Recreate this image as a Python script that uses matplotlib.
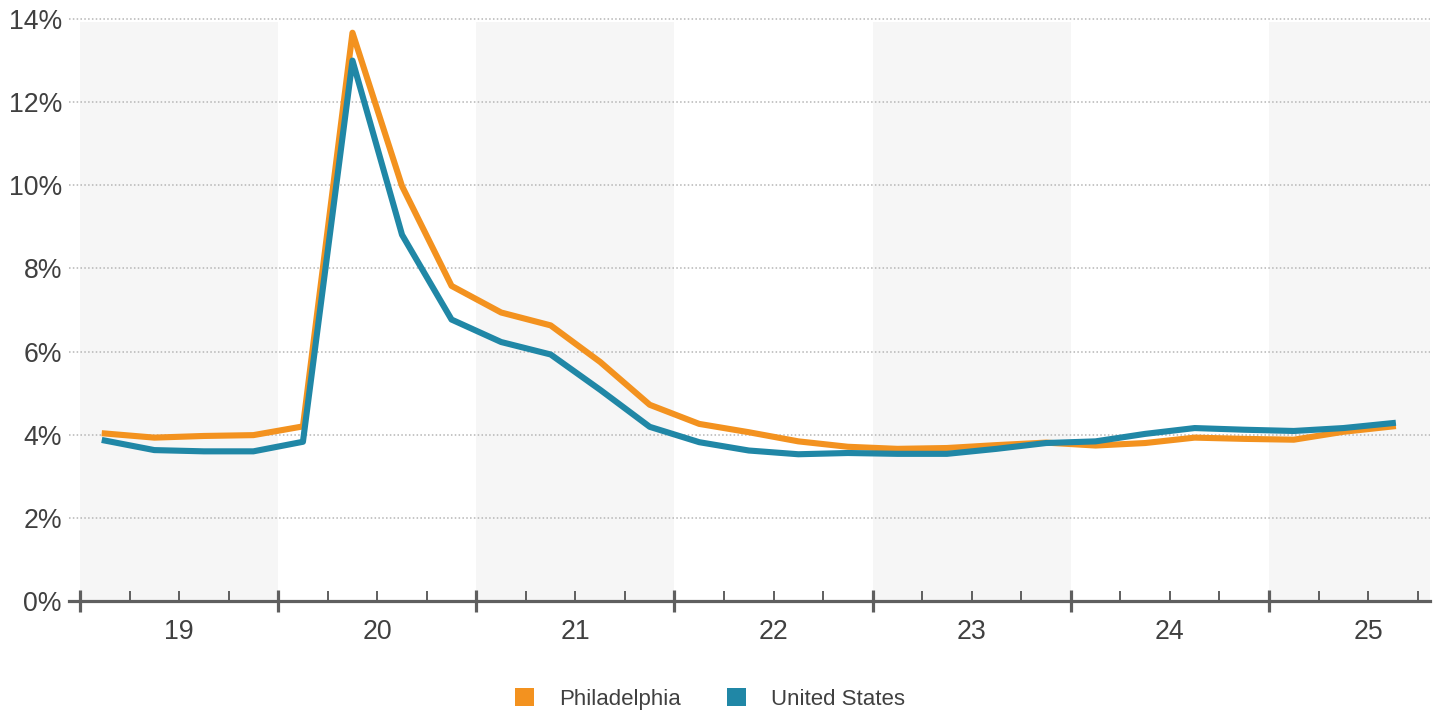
import matplotlib
matplotlib.use("Agg")
import matplotlib.pyplot as plt
from matplotlib.patches import Patch

plt.rcParams['font.family'] = ['Liberation Sans', 'DejaVu Sans']

# Quarterly data, 2019 Q1 .. 2025 Q3
quarters = [f"{y}Q{q}" for y in range(2019, 2026) for q in range(1, 5)][:27]
philadelphia = [4.03, 3.93, 3.97, 3.99, 4.20, 13.67, 9.98, 7.58, 6.94, 6.63, 5.75, 4.72,
                4.26, 4.06, 3.84, 3.71, 3.66, 3.68, 3.75, 3.81, 3.74, 3.80, 3.93, 3.90,
                3.88, 4.07, 4.20]
united_states = [3.86, 3.63, 3.60, 3.60, 3.83, 13.00, 8.81, 6.77, 6.23, 5.93, 5.08, 4.19,
                 3.82, 3.62, 3.53, 3.56, 3.54, 3.54, 3.66, 3.80, 3.84, 4.02, 4.16, 4.12,
                 4.09, 4.16, 4.28]
year_labels = ['19', '20', '21', '22', '23', '24', '25']
y_ticks = [0, 2, 4, 6, 8, 10, 12, 14]

ORANGE = '#F3921F'
BLUE = '#2087A6'
AXIS = '#5f5f5f'
TEXT = '#404040'

fig = plt.figure(figsize=(14.37, 7.14), dpi=100)
ax = fig.add_axes([80 / 1437, 1 - 601 / 714, 1350 / 1437, 582 / 714])

x = list(range(len(quarters)))
ax.set_xlim(-0.5, 26.75)
ax.set_ylim(0, 14)

# alternating year bands
for i in range(len(year_labels)):
    if i % 2 == 0:
        ax.axvspan(-0.5 + 4 * i, min(3.5 + 4 * i, 26.75), ymax=0.995,
                   color='#f6f6f6', lw=0, zorder=0)

# gridlines (extend a little left of the axes)
for v in y_ticks:
    if v == 0:
        continue
    ax.axhline(v, xmin=-0.0085, xmax=1, color='#b5b5b5', lw=1.1,
               ls=(0, (1, 1.5)), clip_on=False, zorder=1)
ax.axhline(0, xmin=-0.0085, xmax=1, color=AXIS, lw=2.3, clip_on=False, zorder=3)

ax.plot(x, philadelphia, color=ORANGE, lw=4.4, zorder=4)
ax.plot(x, united_states, color=BLUE, lw=4.4, zorder=5)

for s in ax.spines.values():
    s.set_visible(False)

ax.set_yticks(y_ticks)
ax.set_yticklabels([f"{v}%" for v in y_ticks])
ax.tick_params(axis='y', length=0, pad=13, labelsize=19.2, labelcolor=TEXT)

major = [-0.5 + 4 * i for i in range(7)]
minor = [-0.5 + k for k in range(28) if k % 4 != 0]
ax.set_xticks(major)
ax.set_xticklabels([''] * len(major))
ax.set_xticks(minor, minor=True)
ax.tick_params(axis='x', which='major', direction='inout', length=16, width=2.3,
               color=AXIS)
ax.tick_params(axis='x', which='minor', direction='in', length=7.5, width=1.4,
               color=AXIS)

for i, lab in enumerate(year_labels):
    ax.text(1.5 + 4 * i, -31 / 582, lab, transform=ax.get_xaxis_transform(),
            ha='center', va='center', fontsize=19.2, color=TEXT)

handles = [Patch(facecolor=ORANGE, edgecolor='none', label='Philadelphia'),
           Patch(facecolor=BLUE, edgecolor='none', label='United States')]
fig.legend(handles=handles, loc='center', bbox_to_anchor=(710 / 1437, 1 - 699 / 714),
           ncol=2, frameon=False, fontsize=16, labelcolor=TEXT,
           handlelength=0.85, handleheight=0.85, handletextpad=1.1, columnspacing=2.1)

fig.savefig('out.png', dpi=100)
